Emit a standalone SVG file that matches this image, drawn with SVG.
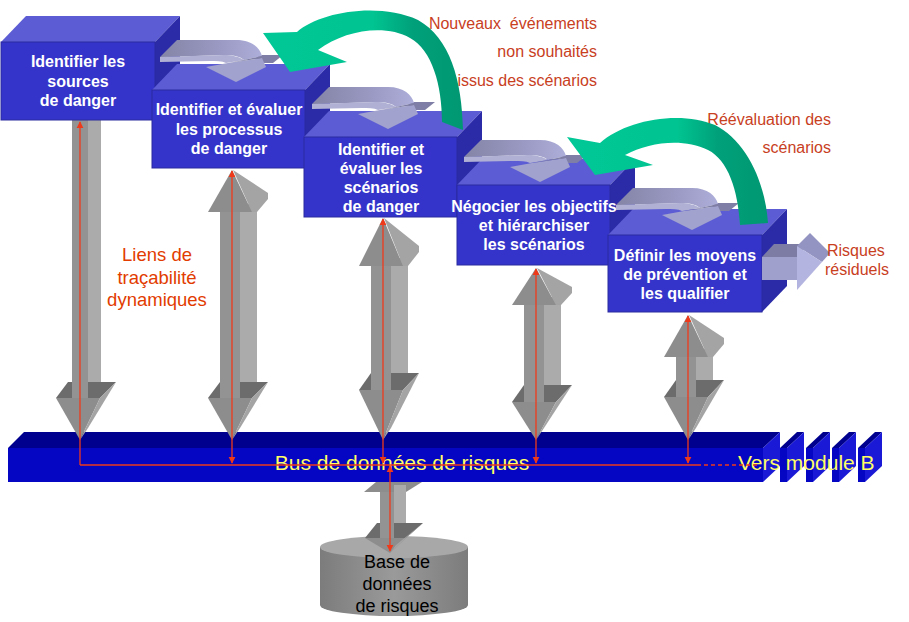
<svg xmlns="http://www.w3.org/2000/svg" width="909" height="622" viewBox="0 0 909 622">
<defs>
<style>
.bf{fill:#3434CA;stroke:#2A2AA0;stroke-width:1}
.bt{fill:#5C5CD4}
.bs{fill:#2B2BA8}
.bx{font-family:"Liberation Sans",Arial,sans-serif;font-weight:bold;font-size:16px;fill:#FFFFFF;text-anchor:middle}
.lb{font-family:"Liberation Sans",Arial,sans-serif;font-size:16px;fill:#C8401E}
.gf{fill:#939393}.gs{fill:#ABABAB}.gl{fill:#6C6C6C}.gh{fill:#8D8D8D}.gr{fill:#A4A4A4}
.rl{stroke:#EE3A1A;stroke-width:1.3;fill:none}
.bus-t{fill:#00008F}.bus-f{fill:#0505C4}.bus-s{fill:#1A1AD6}
.bt2{font-family:"Liberation Sans",Arial,sans-serif;font-size:21px;fill:#FFFF66}
</style>
<linearGradient id="gg" x1="0" y1="0" x2="1" y2="0"><stop offset="0" stop-color="#8484A6"/><stop offset="0.6" stop-color="#9A9AC4"/><stop offset="1" stop-color="#AEAEDA"/></linearGradient>
<linearGradient id="gn" x1="0" y1="0" x2="1" y2="0"><stop offset="0" stop-color="#00C896"/><stop offset="0.55" stop-color="#00C491"/><stop offset="0.75" stop-color="#00A07A"/><stop offset="1" stop-color="#009872"/></linearGradient>
<linearGradient id="cy" x1="0" y1="0" x2="1" y2="0"><stop offset="0" stop-color="#7C7C7C"/><stop offset="0.5" stop-color="#9A9A9A"/><stop offset="1" stop-color="#7C7C7C"/></linearGradient>
<marker id="ra" viewBox="0 0 10 10" refX="9" refY="5" markerWidth="7" markerHeight="8" markerUnits="userSpaceOnUse" orient="auto-start-reverse"><path d="M0,0 L10,5 L0,10 Z" fill="#EE3A1A"/></marker>
<g id="garrow">
<path d="M258,55 L283,55 L273,63 L254,63 Z" fill="#7E7EA6"/>
<path d="M160,57 L177,40 L236,40 C252,40 260,48 262,56 L244,60 C240,56 232,55 224,55 L166,57 Z" fill="url(#gg)"/>
<path d="M160,57 L224,55 C232,55 240,57 244,60 L226,63 C222,61 216,61 210,61 L160,62 Z" fill="#B0B0D4"/>
<path d="M206,67 L228,63 L262,58 L266,67 L236,82 Z" fill="#A2A2CE"/>
<path d="M228,63 L244,60 L262,56 L262,58 Z" fill="#7E7EA6"/>
</g>
</defs>
<rect width="909" height="622" fill="#FFFFFF"/>

<g id="bus">
<polygon class="bus-t" points="8,448 24,432 780,432 763,448"/>
<rect class="bus-f" x="8" y="448" width="755" height="34"/>
<polygon class="bus-s" points="763,448 780,432 780,466 763,482"/>
<polygon class="bus-t" points="780,448 797,432 804,432 787,448"/>
<rect class="bus-f" x="780" y="448" width="7" height="34"/>
<polygon class="bus-s" points="787,448 804,432 804,466 787,482"/>
<polygon class="bus-t" points="806,448 823,432 830,432 813,448"/>
<rect class="bus-f" x="806" y="448" width="7" height="34"/>
<polygon class="bus-s" points="813,448 830,432 830,466 813,482"/>
<polygon class="bus-t" points="832,448 849,432 856,432 839,448"/>
<rect class="bus-f" x="832" y="448" width="7" height="34"/>
<polygon class="bus-s" points="839,448 856,432 856,466 839,482"/>
<polygon class="bus-t" points="858,448 875,432 882,432 865,448"/>
<rect class="bus-f" x="858" y="448" width="7" height="34"/>
<polygon class="bus-s" points="865,448 882,432 882,466 865,482"/>
<text class="bt2" x="402" y="470" text-anchor="middle">Bus de données de risques</text>
<text class="bt2" x="738" y="470">Vers module B</text>
</g>

<g id="links">
<g id="link1">
<polygon class="gl" points="56,398 68,382 116,382 100,398"/>
<rect class="gs" x="84" y="110" width="17" height="272"/>
<rect class="gf" x="72" y="110" width="16" height="288"/>
<polygon class="gh" points="56,398 100,398 80,440"/>
<polygon class="gr" points="100,398 116,382 88,428 80,440"/>
</g>
<g id="link2">
<polygon class="gl" points="208,398 220,382 268,382 252,398"/>
<rect class="gs" x="240" y="204" width="17" height="178"/>
<rect class="gf" x="220" y="212" width="20" height="186"/>
<polygon class="gr" points="233,170 268,193 268,199 257,212 252,212"/>
<polygon class="gh" points="232,170 208,212 252,212"/>
<polygon class="gh" points="208,398 252,398 232,440"/>
<polygon class="gr" points="252,398 268,382 240,428 232,440"/>
</g>
<g id="link3">
<polygon class="gl" points="359,390 371,373 419,373 403,390"/>
<rect class="gs" x="391" y="258" width="17" height="115"/>
<rect class="gf" x="371" y="266" width="20" height="124"/>
<polygon class="gr" points="384,218 419,246 419,252 408,266 403,266"/>
<polygon class="gh" points="383,218 359,266 403,266"/>
<polygon class="gh" points="359,390 403,390 383,440"/>
<polygon class="gr" points="403,390 419,373 391,428 383,440"/>
</g>
<g id="link4">
<polygon class="gl" points="512,402 524,385 572,385 556,402"/>
<rect class="gs" x="544" y="297" width="17" height="88"/>
<rect class="gf" x="524" y="305" width="20" height="97"/>
<polygon class="gr" points="537,268 572,287 572,293 561,305 556,305"/>
<polygon class="gh" points="536,268 512,305 556,305"/>
<polygon class="gh" points="512,402 556,402 536,440"/>
<polygon class="gr" points="556,402 572,385 544,428 536,440"/>
</g>
<g id="link5">
<polygon class="gl" points="664,397 676,380 724,380 708,397"/>
<rect class="gs" x="696" y="349" width="17" height="31"/>
<rect class="gf" x="676" y="357" width="20" height="40"/>
<polygon class="gr" points="689,315 724,338 724,344 713,357 708,357"/>
<polygon class="gh" points="688,315 664,357 708,357"/>
<polygon class="gh" points="664,397 708,397 688,440"/>
<polygon class="gr" points="708,397 724,380 696,428 688,440"/>
</g>
</g>

<g id="database">
<rect x="320" y="547" width="148" height="58" fill="url(#cy)"/>
<ellipse cx="394" cy="605" rx="74" ry="11" fill="url(#cy)"/>
<ellipse cx="394" cy="547" rx="74" ry="11" fill="#A8A8A8"/>
<g id="dblink">
<polygon class="gh" points="364,492 376,482 422,482 406,492"/>
<polygon class="gl" points="365,538 377,523 423,523 406,538"/>
<rect class="gs" x="394" y="485" width="12" height="38"/>
<rect class="gf" x="380" y="492" width="14" height="46"/>
<polygon class="gh" points="365,538 406,538 390,553"/>
<polygon class="gr" points="406,538 423,523 396,545 390,553"/>
</g>
<text font-family="Liberation Sans, Arial, sans-serif" font-size="18" fill="#000000" text-anchor="middle"><tspan x="397" y="568">Base de</tspan><tspan x="397" y="590">données</tspan><tspan x="397" y="612">de risques</tspan></text>
</g>

<g id="box1">
<polygon class="bt" points="1,42 26,16 180,16 155,42"/>
<polygon class="bs" points="155,42 180,16 180,94 155,120"/>
<rect class="bf" x="1" y="42" width="154" height="78"/>
<text class="bx"><tspan x="78" y="67">Identifier les</tspan><tspan x="78" y="87">sources</tspan><tspan x="78" y="106">de danger</tspan></text>
</g>
<g id="box2">
<polygon class="bt" points="152,90 177,64 330,64 305,90"/>
<polygon class="bs" points="305,90 330,64 330,142 305,168"/>
<rect class="bf" x="152" y="90" width="153" height="78"/>
<text class="bx"><tspan x="229" y="115">Identifier et évaluer</tspan><tspan x="229" y="135">les processus</tspan><tspan x="229" y="154">de danger</tspan></text>
</g>
<use href="#garrow"/>
<g id="box3">
<polygon class="bt" points="304,137 329,111 482,111 457,137"/>
<polygon class="bs" points="457,137 482,111 482,191 457,217"/>
<rect class="bf" x="304" y="137" width="153" height="80"/>
<text class="bx"><tspan x="381" y="155">Identifier et</tspan><tspan x="381" y="174">évaluer les</tspan><tspan x="381" y="193">scénarios</tspan><tspan x="381" y="212">de danger</tspan></text>
</g>
<use href="#garrow" transform="translate(152,47)"/>
<g id="box4">
<polygon class="bt" points="457,185 482,159 635,159 610,185"/>
<polygon class="bs" points="610,185 635,159 635,239 610,265"/>
<rect class="bf" x="457" y="185" width="153" height="80"/>
<text class="bx"><tspan x="534" y="212">Négocier les objectifs</tspan><tspan x="534" y="231">et hiérarchiser</tspan><tspan x="534" y="250">les scénarios</tspan></text>
</g>
<use href="#garrow" transform="translate(304,100)"/>
<g id="box5">
<polygon class="bt" points="608,235 633,209 787,209 762,235"/>
<polygon class="bs" points="762,235 787,209 787,286 762,312"/>
<rect class="bf" x="608" y="235" width="154" height="77"/>
<text class="bx"><tspan x="685" y="261">Définir les moyens</tspan><tspan x="685" y="280">de prévention et</tspan><tspan x="685" y="299">les qualifier</tspan></text>
</g>
<use href="#garrow" transform="translate(456,148)"/>

<g id="residual">
<polygon points="762,257 774,244 808,244 797,257" fill="#7C7CA4"/>
<rect x="762" y="257" width="35" height="23" fill="#A0A0CC"/>
<polygon points="797,246 810,233 830,253 822,262" fill="#9494C2"/>
<polygon points="797,246 822,262 797,290" fill="#B4B4E0"/>
</g>

<g id="labels">
<text class="lb" x="597" y="29" text-anchor="end" style="white-space:pre">Nouveaux  événements</text>
<text class="lb" x="597" y="57" text-anchor="end">non souhaités</text>
<text class="lb" x="597" y="86" text-anchor="end">issus des scénarios</text>
<text class="lb" x="831" y="125" text-anchor="end">Réévaluation des</text>
<text class="lb" x="831" y="153" text-anchor="end">scénarios</text>
<text class="lb" x="827" y="256">Risques</text>
<text class="lb" x="825" y="275">résiduels</text>
<text font-family="Liberation Sans, Arial, sans-serif" font-size="18.5" fill="#E23C00" text-anchor="middle"><tspan x="157" y="261">Liens de</tspan><tspan x="157" y="284">traçabilité</tspan><tspan x="157" y="306">dynamiques</tspan></text>
</g>

<g id="feedback">
<path d="M297,32 C320,12 378,2 418,20 C450,38 462,80 463,130 L442,122 C442,85 432,50 410,38 C385,24 345,30 318,50 L347,62 L290,72 L263,33 Z" fill="url(#gn)"/>
<path d="M600,143 C625,120 680,110 715,125 C745,140 765,180 768,223 L740,225 C738,190 728,160 708,150 C683,138 650,142 625,155 L653,165 L595,175 L567,137 Z" fill="url(#gn)"/>
</g>

<g id="connectors">
<polyline class="rl" points="80,465 697,465"/>
<line class="rl" x1="697" y1="465" x2="758" y2="465" stroke-dasharray="4,3"/>
<line class="rl" x1="80" y1="465" x2="80" y2="122" marker-end="url(#ra)"/>
<line class="rl" x1="232" y1="463" x2="232" y2="171" marker-start="url(#ra)" marker-end="url(#ra)"/>
<line class="rl" x1="383" y1="463" x2="383" y2="219" marker-start="url(#ra)" marker-end="url(#ra)"/>
<line class="rl" x1="536" y1="463" x2="536" y2="269" marker-start="url(#ra)" marker-end="url(#ra)"/>
<line class="rl" x1="688" y1="463" x2="688" y2="316" marker-start="url(#ra)" marker-end="url(#ra)"/>
<line class="rl" x1="390" y1="466" x2="390" y2="551" marker-start="url(#ra)" marker-end="url(#ra)"/>
</g>
</svg>
